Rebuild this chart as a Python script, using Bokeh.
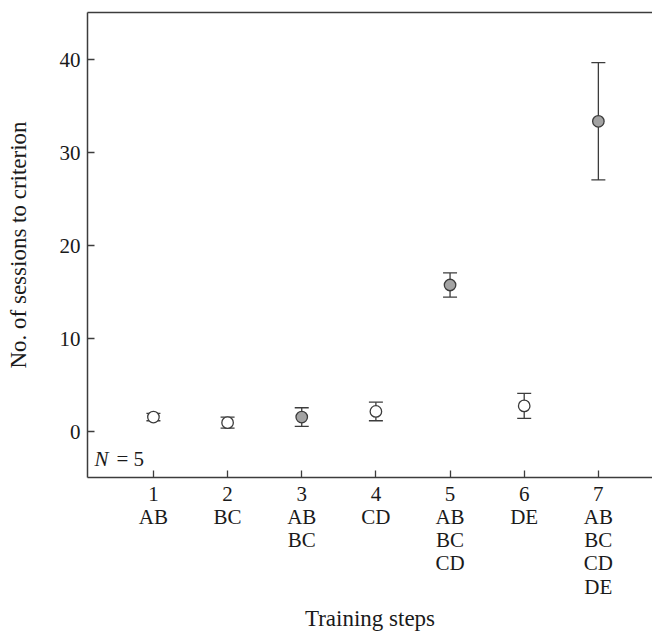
from bokeh.plotting import figure
from bokeh.models import (ColumnDataSource, Whisker, TeeHead, FixedTicker, Range1d,
                          LinearAxis, Label)
from bokeh.embed import file_html
from bokeh.resources import INLINE

steps = [1, 2, 3, 4, 5, 6, 7]
pairs = ["AB", "BC", "AB\nBC", "CD", "AB\nBC\nCD", "DE", "AB\nBC\nCD\nDE"]
means = [1.6, 1.0, 1.6, 2.2, 15.8, 2.8, 33.4]
errs = [0.4, 0.6, 1.0, 1.0, 1.3, 1.35, 6.3]
combined = [False, False, True, False, True, False, True]
y_ticks = [0, 10, 20, 30, 40]

FONT = "Liberation Serif"
AX = "#3c3c3c"
TXT = "#1a1a1a"

src = ColumnDataSource(dict(
    x=steps,
    y=means,
    lower=[m - e for m, e in zip(means, errs)],
    upper=[m + e for m, e in zip(means, errs)],
    fill=["#a3a3a3" if c else "white" for c in combined],
))

p = figure(width=652, height=633, output_backend="svg", toolbar_location=None,
           x_range=Range1d(0.111, 7.73), y_range=Range1d(-4.9, 45.1),
           min_border_left=87, min_border_right=0, min_border_top=12,
           min_border_bottom=138)
p.outline_line_color = None
p.grid.visible = False
p.background_fill_color = "white"
p.border_fill_color = "white"

w = Whisker(source=src, base="x", lower="lower", upper="upper",
            line_color=AX, line_width=1.3,
            upper_head=TeeHead(size=14, line_color=AX, line_width=1.3),
            lower_head=TeeHead(size=14, line_color=AX, line_width=1.3))
p.add_layout(w)
p.scatter("x", "y", source=src, size=11.5, fill_color="fill", line_color=AX,
          line_width=1.3)

xa = p.xaxis[0]
xa.ticker = FixedTicker(ticks=steps)
xa.major_label_overrides = {s: f"{s}\n{pr}" for s, pr in zip(steps, pairs)}
xa.axis_label = "Training steps"
ya = p.yaxis[0]
ya.ticker = FixedTicker(ticks=y_ticks)
ya.axis_label = "No. of sessions to criterion"
for ax in (xa, ya):
    ax.axis_line_color = AX
    ax.axis_line_width = 1.5
    ax.major_tick_line_color = AX
    ax.major_tick_line_width = 1.3
    ax.major_tick_in = 7
    ax.major_tick_out = 0
    ax.minor_tick_line_color = None
    ax.major_label_text_font = FONT
    ax.major_label_text_font_size = "21px"
    ax.major_label_text_color = TXT
    ax.axis_label_text_font = FONT
    ax.axis_label_text_font_size = "23px"
    ax.axis_label_text_font_style = "normal"
    ax.axis_label_text_color = TXT
xa.major_label_text_line_height = 0.97
xa.major_label_standoff = 4
xa.axis_label_standoff = 4
ya.major_label_standoff = 7
ya.axis_label_standoff = 26

top = LinearAxis(ticker=FixedTicker(ticks=[]), axis_line_color=AX, axis_line_width=1.5,
                 major_tick_line_color=None, minor_tick_line_color=None,
                 major_label_text_font_size="0px")
p.add_layout(top, "above")

p.add_layout(Label(x=7, y=7, x_units="screen", y_units="screen", text="N",
                   text_font=FONT, text_font_style="italic", text_font_size="21px",
                   text_color=TXT))
p.add_layout(Label(x=29, y=7, x_units="screen", y_units="screen", text="= 5",
                   text_font=FONT, text_font_size="21px", text_color=TXT))

open("out.html", "w").write(file_html(p, INLINE))
